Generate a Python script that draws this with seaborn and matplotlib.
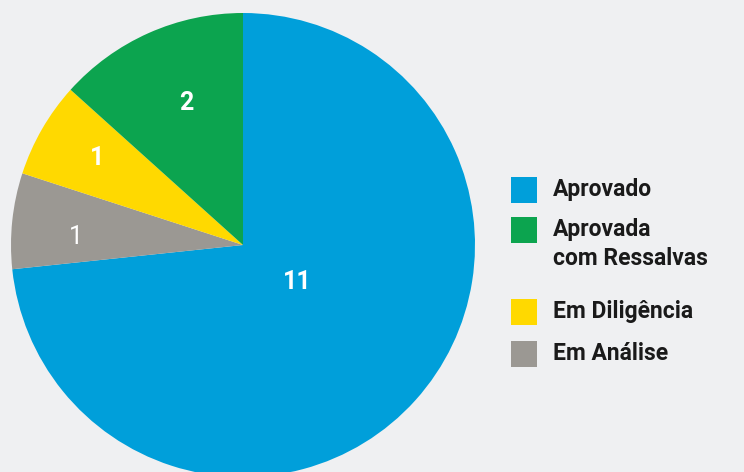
import matplotlib as mpl
mpl.use('Agg')
import matplotlib.pyplot as plt
import seaborn as sns
from matplotlib.patches import Rectangle


# Values (slice order = clockwise from the top).
categories = ['Aprovado', 'Em Análise', 'Em Diligência', 'Aprovada\ncom Ressalvas']
counts = [11, 1, 1, 2]
colors = ['#009fda', '#9b9893', '#ffd900', '#0ca44f']
label_weights = ['bold', 'normal', 'bold', 'bold']

# Legend order differs from slice order.
legend_order = [0, 3, 2, 1]


def main():

    sns.set_theme(style='white')
    plt.rcParams['font.family'] = ['Roboto', 'DejaVu Sans']
    bg = '#eff0f2'
    W, H = 744, 472

    fig = plt.figure(figsize=(W / 100, H / 100), dpi=100, facecolor=bg)
    # Pie centre at (243, 245) px, radius 232 px -> runs off the bottom edge.
    ax = fig.add_axes([11 / W, -5 / H, 464 / W, 464 / H])
    ax.set_facecolor(bg)

    wedges, texts = ax.pie(counts, colors=colors, startangle=90, counterclock=False,
                           labels=[str(c) for c in counts], labeldistance=None,
                           wedgeprops=dict(linewidth=0))
    for w in wedges:
        w.set_clip_on(False)

    # Slice labels, placed inside each wedge.
    label_pos = [(0.233, -0.16), (-0.72, 0.034), (-0.629, 0.375), (-0.246, 0.612)]
    for (x, y), c, wt in zip(label_pos, counts, label_weights):
        ax.text(x, y, str(c), ha='center', va='center', color='white',
                fontsize=18, fontweight=wt)

    ax.set_xlim(-1, 1)
    ax.set_ylim(-1, 1)
    ax.axis('off')

    # Legend, drawn by hand so the rows line up with the reference.
    row_top = [177, 217, 299, 341]   # top of each swatch, px from top
    for top, i in zip(row_top, legend_order):
        fig.add_artist(Rectangle((511 / W, 1 - (top + 26) / H), 26 / W, 26 / H,
                                 transform=fig.transFigure, facecolor=colors[i],
                                 edgecolor='none'))
        fig.text(553 / W, 1 - (top + 1) / H, categories[i], ha='left', va='top',
                 fontsize=16.5, fontweight='bold', color='#1a1a1a',
                 linespacing=1.33, transform=fig.transFigure)

    plt.savefig('out.png', dpi=100, facecolor=bg)
    plt.clf()


if __name__ == '__main__':
    main()
